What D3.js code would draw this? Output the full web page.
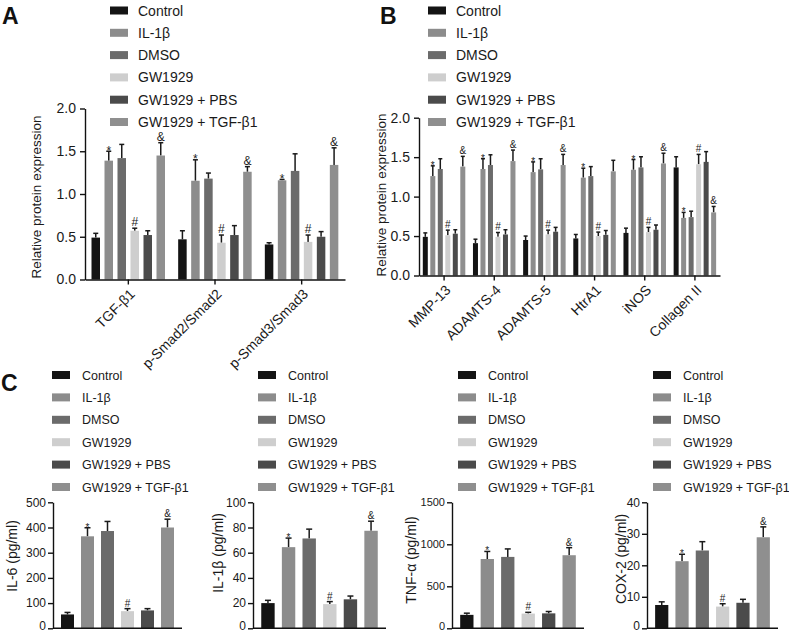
<!DOCTYPE html>
<html><head><meta charset="utf-8">
<script src="https://cdn.jsdelivr.net/npm/d3@7"></script>
<style>
body{margin:0;background:#fff}
svg{display:block;font-family:"Liberation Sans",Arial,Helvetica,sans-serif}
</style>
</head><body>
<svg id="chart" width="789" height="634"></svg>
<script>
// ---------- data ----------
const groups = ["Control","IL-1β","DMSO","GW1929","GW1929 + PBS","GW1929 + TGF-β1"];
const groupColors = ["#141414","#8c8c8c","#6b6b6b","#cecece","#4b4b4b","#8f8f8f"];

const panelACategories = ["TGF-β1","p-Smad2/Smad2","p-Smad3/Smad3"];
const panelAMeans = [
  [0.49,1.39,1.42,0.57,0.52,1.45],
  [0.47,1.155,1.18,0.43,0.52,1.26],
  [0.41,1.16,1.27,0.44,0.50,1.34]];
const panelAErrTop = [
  [0.54,1.50,1.58,0.60,0.57,1.60],
  [0.57,1.40,1.245,0.52,0.63,1.32],
  [0.43,1.17,1.47,0.52,0.56,1.54]];
const panelAMarks = [
  ["","*","","#","","&"],
  ["","*","","#","","&"],
  ["","*","","#","","&"]];

const panelBCategories = ["MMP-13","ADAMTS-4","ADAMTS-5","HtrA1","iNOS","Collagen II"];
const panelBMeans = [
  [0.49,1.26,1.35,0.51,0.53,1.38],
  [0.41,1.35,1.40,0.49,0.52,1.45],
  [0.45,1.31,1.345,0.52,0.555,1.40],
  [0.47,1.24,1.26,0.50,0.515,1.32],
  [0.54,1.34,1.37,0.55,0.58,1.42],
  [1.37,0.73,0.74,1.41,1.44,0.80]];
const panelBErrTop = [
  [0.54,1.39,1.48,0.575,0.58,1.51],
  [0.46,1.48,1.53,0.545,0.58,1.59],
  [0.50,1.44,1.48,0.575,0.61,1.535],
  [0.52,1.36,1.38,0.55,0.57,1.46],
  [0.60,1.47,1.505,0.61,0.64,1.55],
  [1.505,0.80,0.815,1.535,1.57,0.875]];
const panelBMarks = [
  ["","*","","#","","&"],
  ["","*","","#","","&"],
  ["","*","","#","","&"],
  ["","*","","#","",""],
  ["","*","","#","","&"],
  ["","*","","#","","&"]];

const relTicks = [0,0.5,1.0,1.5,2.0];

const cytokineTitles = ["IL-6 (pg/ml)","IL-1β (pg/ml)","TNF-α (pg/ml)","COX-2 (pg/ml)"];
const il6Means = [55,365,386,68,71,400];
const il6ErrTop = [63,399,424,78,78,433];
const il6Ticks = [0,100,200,300,400,500];
const il1bMeans = [20,64.4,71.3,19.2,23,77.4];
const il1bErrTop = [22.2,71.6,78.7,21.2,25.6,85];
const il1bTicks = [0,20,40,60,80,100];
const tnfMeans = [160,825,850,175,178,870];
const tnfErrTop = [180,915,945,190,200,960];
const tnfTicks = [0,500,1000,1500];
const cox2Means = [7.4,21.3,24.7,6.9,8.1,28.9];
const cox2ErrTop = [8.4,23.5,27.5,7.8,9.2,32.2];
const cox2Ticks = [0,10,20,30,40];
const cMarks = ["","*","","#","","&"];

// ---------- drawing ----------
const svg = d3.select("#chart");
const ERR = "#1a1a1a";

function panelLetter(t, x, y){
  svg.append("text").attr("x",x).attr("y",y).attr("font-size",23).attr("font-weight","bold").attr("fill","#111").text(t);
}

function legend(swX, textX, y0, step, fs){
  const g = svg.append("g");
  groups.forEach((name,i)=>{
    const cy = y0 + i*step;
    g.append("rect").attr("x",swX).attr("y",cy-4).attr("width",18).attr("height",8).attr("fill",groupColors[i]);
    g.append("text").attr("x",textX).attr("y",cy).attr("dy","0.36em").attr("font-size",fs).attr("fill","#1a1a1a").text(name);
  });
}

function marker(g, m, x, yTop, fs){
  if(!m) return;
  const dy = m === "*" ? fs*0.3 : -2;
  g.append("text").attr("x",x).attr("y",yTop + dy).attr("text-anchor","middle").attr("font-size",fs).attr("fill","#222").text(m);
}

function errBar(g, cx, y0, y1, cap){
  g.append("line").attr("x1",cx).attr("x2",cx).attr("y1",y0).attr("y2",y1).attr("stroke",ERR).attr("stroke-width",1.5);
  g.append("line").attr("x1",cx-cap/2).attr("x2",cx+cap/2).attr("y1",y1).attr("y2",y1).attr("stroke",ERR).attr("stroke-width",1.5);
}

function styleAxis(sel, fs){
  sel.selectAll("path,line").attr("stroke","#111").attr("stroke-width",1.4);
  sel.selectAll("text").attr("font-size",fs).attr("fill","#1a1a1a").attr("font-family","'Liberation Sans',Arial,sans-serif");
}

function groupedPanel(cfg){
  const g = svg.append("g");
  const x0 = d3.scaleBand().domain(cfg.categories).range([cfg.xL, cfg.xR]);
  const inner = d3.scaleBand().domain(d3.range(groups.length))
      .range([cfg.innerPad, cfg.innerPad + cfg.innerSpan]).paddingInner(cfg.padInner);
  const y = d3.scaleLinear().domain([0,2]).range([cfg.yB, cfg.yT]);

  cfg.categories.forEach((cat,ci)=>{
    const bx = x0(cat);
    groups.forEach((gr,gi)=>{
      const x = bx + inner(gi), w = inner.bandwidth();
      const v = cfg.means[ci][gi], e = cfg.errTop[ci][gi];
      errBar(g, x + w/2, y(v), y(e), cfg.cap);
      g.append("rect").attr("x",x).attr("y",y(v)).attr("width",w).attr("height",y(0)-y(v)).attr("fill",groupColors[gi]);
      marker(g, cfg.marks[ci][gi], x + w/2, y(e), cfg.markFs);
    });
  });

  const ya = g.append("g").attr("transform",`translate(${cfg.xL},0)`)
    .call(d3.axisLeft(y).tickValues(relTicks).tickFormat(d3.format(".1f")).tickSize(5).tickSizeOuter(0).tickPadding(4));
  styleAxis(ya, cfg.tickFs);
  const xa = g.append("g").attr("transform",`translate(0,${cfg.yB})`)
    .call(d3.axisBottom(x0).tickSize(5).tickSizeOuter(0).tickFormat(""));
  styleAxis(xa, cfg.tickFs);
  cfg.categories.forEach(cat=>{
    const tx = x0(cat) + x0.bandwidth()/2;
    g.append("text").attr("transform",`translate(${tx+4},${cfg.yB+12}) rotate(-45)`)
      .attr("text-anchor","end").attr("dy","0.35em").attr("font-size",cfg.labelFs).attr("fill","#1a1a1a").text(cat);
  });
  g.append("text").attr("transform",`translate(${cfg.titleX},${cfg.titleY}) rotate(-90)`)
    .attr("text-anchor","middle").attr("dy","0.35em").attr("font-size",13.5).attr("fill","#1a1a1a").text("Relative protein expression");
}

function simplePanel(cfg){
  const g = svg.append("g");
  const x = d3.scaleBand().domain(d3.range(groups.length)).range([cfg.xL, cfg.xR]).paddingInner(0.35).paddingOuter(0.4);
  const y = d3.scaleLinear().domain([0, d3.max(cfg.ticks)]).range([628.3, 502.3]);
  groups.forEach((gr,i)=>{
    const bx = x(i), w = x.bandwidth();
    errBar(g, bx + w/2, y(cfg.means[i]), y(cfg.errTop[i]), 6);
    g.append("rect").attr("x",bx).attr("y",y(cfg.means[i])).attr("width",w).attr("height",y(0)-y(cfg.means[i])).attr("fill",groupColors[i]);
    marker(g, cMarks[i], bx + w/2, y(cfg.errTop[i]), 10);
  });
  const ya = g.append("g").attr("transform",`translate(${cfg.xL},0)`)
    .call(d3.axisLeft(y).tickValues(cfg.ticks).tickFormat(d3.format("d")).tickSize(5).tickSizeOuter(0).tickPadding(2));
  styleAxis(ya, cfg.tickFs);
  // keep the bottom "0" label inside the picture
  ya.selectAll(".tick text").filter(d=>d===0).attr("dy","0.1em");
  g.append("line").attr("x1",cfg.xL).attr("x2",cfg.xR).attr("y1",y(0)).attr("y2",y(0)).attr("stroke","#111").attr("stroke-width",1.4);
  g.append("text").attr("transform",`translate(${cfg.titleX},${cfg.titleY}) rotate(-90)`)
    .attr("text-anchor","middle").attr("dy","0.35em").attr("font-size",14).attr("fill","#1a1a1a").text(cfg.title);
}

// Panel A
panelLetter("A", 2, 24);
legend(110, 138, 10.5, 22.3, 14);
groupedPanel({categories:panelACategories, means:panelAMeans, errTop:panelAErrTop, marks:panelAMarks,
  xL:85, xR:345, yB:279.5, yT:108.5, innerPad:6.5, innerSpan:73.5, padInner:0.346, cap:5,
  markFs:12, tickFs:14, labelFs:14, titleX:36, titleY:197});

// Panel B
panelLetter("B", 380, 24);
legend(428, 456, 10.5, 22.3, 14);
groupedPanel({categories:panelBCategories, means:panelBMeans, errTop:panelBErrTop, marks:panelBMarks,
  xL:419, xR:720, yB:275.5, yT:117.7, innerPad:3.8, innerSpan:42.5, padInner:0.333, cap:4,
  markFs:10, tickFs:14, labelFs:14, titleX:381, titleY:195});

// Panel C
panelLetter("C", 1, 391);
legend(52, 82, 375, 22.4, 12.5);
legend(258, 288, 375, 22.4, 12.5);
legend(458, 488, 375, 22.4, 12.5);
legend(653, 683, 375, 22.4, 12.5);
simplePanel({title:cytokineTitles[0], means:il6Means, errTop:il6ErrTop, ticks:il6Ticks, xL:53, xR:182, tickFs:12, titleX:12, titleY:556});
simplePanel({title:cytokineTitles[1], means:il1bMeans, errTop:il1bErrTop, ticks:il1bTicks, xL:253, xR:386, tickFs:12, titleX:218, titleY:553});
simplePanel({title:cytokineTitles[2], means:tnfMeans, errTop:tnfErrTop, ticks:tnfTicks, xL:452, xR:584, tickFs:11, titleX:411, titleY:560});
simplePanel({title:cytokineTitles[3], means:cox2Means, errTop:cox2ErrTop, ticks:cox2Ticks, xL:647, xR:778, tickFs:12, titleX:621, titleY:559});
</script>
</body></html>
